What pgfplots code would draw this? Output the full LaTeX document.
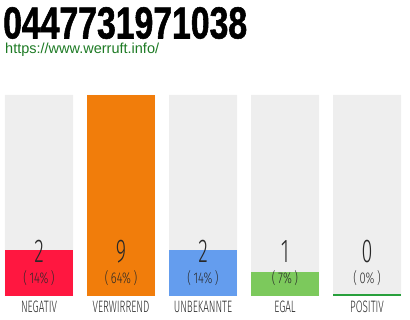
\documentclass[border=0pt]{standalone}
\usepackage{pgfplots}
\pgfplotsset{compat=1.18}
\usepackage{fontspec}
\setmainfont{Liberation Sans}
\newfontfamily\titlefont[FakeStretch=0.75, FakeBold=1.2]{Liberation Sans}
\newfontfamily\condlight[FakeStretch=0.6, UprightFont={* Light}]{Fira Sans}
\newfontfamily\pctfont[FakeStretch=0.72, UprightFont={* Light}]{Fira Sans}
\definecolor{cneg}{RGB}{255,23,64}
\definecolor{cverw}{RGB}{241,125,11}
\definecolor{cunb}{RGB}{100,157,238}
\definecolor{cegal}{RGB}{124,201,92}
\definecolor{cpos}{RGB}{40,160,60}
\definecolor{cbg}{RGB}{238,238,238}
\definecolor{clink}{RGB}{29,122,36}
\definecolor{ctxt}{RGB}{40,40,40}
\begin{document}
\begin{tikzpicture}[x=1pt,y=1pt]
\path[use as bounding box] (0,0) rectangle (410,320);
\node[anchor=base west, inner sep=0pt, text depth=0pt, font=\titlefont\bfseries\fontsize{45}{50}\selectfont] at (3,281.5) {0447731971038};
\node[anchor=base west, inner sep=0pt, text height=10.5pt, text=clink, font=\fontsize{14.5}{16}\selectfont] at (5,266) {https://www.werruft.info/};
\begin{axis}[
  at={(5pt,24pt)}, anchor=south west,
  scale only axis, width=396pt, height=201pt,
  xmin=-0.414634, xmax=4.414634, ymin=0, ymax=9.09,
  axis line style={draw=none}, major tick length=0pt,
  ytick=\empty,
  xtick={0,1,2,3,4},
  xticklabels={NEGATIV,VERWIRREND,UNBEKANNTE,EGAL,POSITIV},
  xticklabel style={anchor=base, yshift=-16.5pt, text=ctxt, font=\condlight\fontsize{16.5}{18}\selectfont},
  ybar, bar width=68pt, bar shift=0pt,
  y filter/.expression={y+0.09},
  clip=false,
]
\addplot[fill=cbg, draw=none] coordinates {(0,9) (1,9) (2,9) (3,9) (4,9)};
\addplot[fill=cneg, draw=none] coordinates {(0,2)};
\addplot[fill=cverw, draw=none] coordinates {(1,9)};
\addplot[fill=cunb, draw=none] coordinates {(2,2)};
\addplot[fill=cegal, draw=none] coordinates {(3,1)};
\addplot[fill=cpos, draw=none] coordinates {(4,0)};
\end{axis}
\foreach \x/\v/\p in {39/2/14, 121/9/64, 203/2/14, 285/1/7, 367/0/0}{
  \node[anchor=base, inner sep=0pt, text=ctxt, font=\condlight\fontsize{33}{36}\selectfont] at (\x,57) {\v};
  \node[anchor=base, inner sep=0pt, text=ctxt, font=\pctfont\fontsize{15.5}{17}\selectfont] at (\x,36) {(\,\p\%\,)};
}
\end{tikzpicture}
\end{document}
